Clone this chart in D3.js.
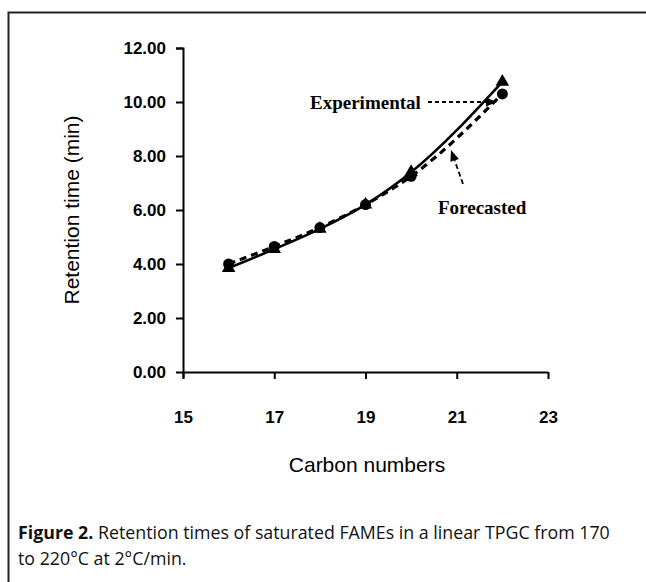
<!DOCTYPE html>
<html>
<head>
<meta charset="utf-8">
<script src="https://cdn.jsdelivr.net/npm/d3@7"></script>
<style>
  body { margin: 0; background: #fff; }
  svg { display: block; }
</style>
</head>
<body>
<svg id="chart"></svg>
<script>
// carbon numbers of the saturated FAMEs
var carbons = [16, 17, 18, 19, 20, 22];
var experimental = [3.85, 4.55, 5.3, 6.2, 7.4, 10.75];
var forecasted = [4.0, 4.65, 5.35, 6.2, 7.25, 10.3];
var xTicks = [15, 17, 19, 21, 23];
var yTicks = [0, 2, 4, 6, 8, 10, 12];

var width = 646, height = 582;
var sans = "Arial, 'Liberation Sans', sans-serif";
var serif = "'Liberation Serif', 'Times New Roman', serif";
var svg = d3.select("#chart").attr("width", width).attr("height", height);

// frame round the figure (right and bottom edges run off the page)
svg.append("path")
  .attr("d", "M8.5,582 L8.5,12.5 L646,12.5")
  .attr("fill", "none").attr("stroke", "#222").attr("stroke-width", 2);

var x = d3.scaleLinear().domain([15, 23]).range([183, 548]);
var y = d3.scaleLinear().domain([0, 12]).range([372, 48]);

var yAxis = d3.axisLeft(y).tickValues(yTicks).tickFormat(d3.format(".2f")).tickSize(7).tickPadding(10);
var gy = svg.append("g").attr("transform", "translate(183,0)").call(yAxis)
  .attr("font-family", sans).attr("font-size", 17).attr("font-weight", "bold");
gy.select(".domain").attr("d", "M-7,48.5 H0.5 V378").attr("stroke-width", 2);
gy.selectAll(".tick line").attr("stroke-width", 2);

var xAxis = d3.axisBottom(x).tickValues(xTicks).tickSize(7).tickPadding(32);
var gx = svg.append("g").attr("transform", "translate(0,372)").call(xAxis)
  .attr("font-family", sans).attr("font-size", 17).attr("font-weight", "bold");
gx.select(".domain").attr("d", "M183,0.5 H548").attr("stroke-width", 2);
gx.selectAll(".tick line").attr("stroke-width", 2);

svg.append("text")
  .attr("transform", "translate(79,210) rotate(-90)")
  .attr("text-anchor", "middle")
  .style("font-family", sans)
  .style("font-size", "21px")
  .text("Retention time (min)");

svg.append("text")
  .attr("x", 367).attr("y", 472)
  .attr("text-anchor", "middle")
  .style("font-family", sans)
  .style("font-size", "21px")
  .text("Carbon numbers");

var pts = function (vals) { return carbons.map(function (c, i) { return [c, vals[i]]; }); };
var line = d3.line().x(function (d) { return x(d[0]); }).y(function (d) { return y(d[1]); })
  .curve(d3.curveMonotoneX);

svg.append("path").datum(pts(forecasted))
  .attr("d", line).attr("fill", "none").attr("stroke", "#000")
  .attr("stroke-width", 3.2).attr("stroke-dasharray", "7,5");

svg.append("path").datum(pts(experimental))
  .attr("d", line).attr("fill", "none").attr("stroke", "#000")
  .attr("stroke-width", 2.6);

svg.selectAll(".circ").data(pts(forecasted)).enter().append("circle")
  .attr("cx", function (d) { return x(d[0]); })
  .attr("cy", function (d) { return y(d[1]); })
  .attr("r", 5.5).attr("fill", "#000");

var tri = d3.symbol().type(d3.symbolTriangle).size(80);
svg.selectAll(".tri").data(pts(experimental)).enter().append("path")
  .attr("d", tri)
  .attr("transform", function (d) { return "translate(" + x(d[0]) + "," + y(d[1]) + ")"; })
  .attr("fill", "#000");

// dashed arrow with a filled head drawn at its tip
function arrow(x1, y1, x2, y2, dash) {
  var a = Math.atan2(y2 - y1, x2 - x1), len = 11, half = 4.5;
  var bx = x2 - len * Math.cos(a), by = y2 - len * Math.sin(a);
  svg.append("line").attr("x1", x1).attr("y1", y1).attr("x2", bx).attr("y2", by)
    .attr("stroke", "#000").attr("stroke-width", 1.8).attr("stroke-dasharray", dash);
  svg.append("path")
    .attr("d", "M" + x2 + "," + y2 +
      " L" + (bx + half * Math.sin(a)) + "," + (by - half * Math.cos(a)) +
      " L" + (bx - half * Math.sin(a)) + "," + (by + half * Math.cos(a)) + " Z")
    .attr("fill", "#000");
}

svg.append("text").attr("x", 310).attr("y", 109)
  .style("font-family", serif)
  .style("font-weight", "bold").style("font-size", "19px")
  .text("Experimental");
arrow(428, 102, 497, 102, "4,3");

svg.append("text").attr("x", 438).attr("y", 214)
  .style("font-family", serif)
  .style("font-weight", "bold").style("font-size", "19px")
  .text("Forecasted");
arrow(463, 184, 451, 150, "5,3");

// caption
var cap = svg.append("text")
  .style("font-family", "'Open Sans', sans-serif").style("font-size", "17.8px")
  .attr("fill", "#111");
var l1 = cap.append("tspan").attr("x", 18).attr("y", 539);
l1.append("tspan").style("font-weight", "bold").text("Figure 2.");
l1.append("tspan").text(" Retention times of saturated FAMEs in a linear TPGC from 170");
cap.append("tspan").attr("x", 18).attr("y", 565).text("to 220°C at 2°C/min.");
</script>
</body>
</html>
